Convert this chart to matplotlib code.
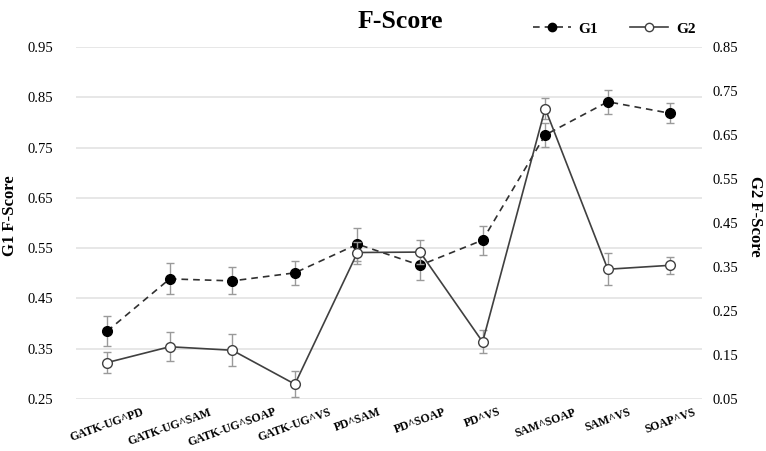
import numpy as np
import matplotlib
matplotlib.use("Agg")
import matplotlib.pyplot as plt
from matplotlib.lines import Line2D

plt.rcParams['font.family'] = ['Liberation Serif', 'DejaVu Serif']

# data
pairs = ['GATK-UG^PD', 'GATK-UG^SAM', 'GATK-UG^SOAP', 'GATK-UG^VS', 'PD^SAM',
         'PD^SOAP', 'PD^VS', 'SAM^SOAP', 'SAM^VS', 'SOAP^VS']
g1 = [0.385, 0.489, 0.485, 0.501, 0.558, 0.516, 0.566, 0.775, 0.841, 0.818]
g1_err = [0.030, 0.031, 0.027, 0.024, 0.033, 0.030, 0.029, 0.023, 0.024, 0.020]
g2 = [0.133, 0.169, 0.161, 0.084, 0.383, 0.384, 0.180, 0.710, 0.345, 0.354]
g2_err = [0.024, 0.033, 0.036, 0.030, 0.025, 0.028, 0.026, 0.023, 0.036, 0.019]
left_ticks = [0.25, 0.35, 0.45, 0.55, 0.65, 0.75, 0.85, 0.95]
right_ticks = [0.05, 0.15, 0.25, 0.35, 0.45, 0.55, 0.65, 0.75, 0.85]

x = np.arange(len(pairs))

fig = plt.figure(figsize=(7.66, 4.51), dpi=100)
ax = fig.add_axes([0.099, 0.115, 0.817, 0.781])
ax2 = ax.twinx()

# grid lines on the left axis
for t in left_ticks:
    ax.axhline(t, color='#e3e3e3', lw=1.2, zorder=0)

err_kw = dict(ecolor='#9a9a9a', elinewidth=1.0, capsize=3, capthick=1.0)

ax.errorbar(x, g1, yerr=g1_err, fmt='o--', color='#303030', lw=1.2,
            markersize=7, markerfacecolor='black', markeredgecolor='black',
            dashes=(4, 3), zorder=3, **err_kw)
ax2.errorbar(x, g2, yerr=g2_err, fmt='o-', color='#404040', lw=1.2,
             markersize=7, markerfacecolor='white', markeredgecolor='#404040',
             zorder=3, **err_kw)

ax.set_xlim(-0.5, len(pairs) - 0.5)
ax.set_ylim(0.25, 0.95)
ax2.set_ylim(0.05, 0.85)
ax.set_yticks(left_ticks)
ax.set_yticklabels([f'{t:.2f}' for t in left_ticks], fontsize=10.5)
ax2.set_yticks(right_ticks)
ax2.set_yticklabels([f'{t:.2f}' for t in right_ticks], fontsize=10.5)
ax.tick_params(axis='y', length=0, pad=16)
ax2.tick_params(axis='y', length=0, pad=8)
ax.set_xticks(x)
ax.set_xticklabels(pairs, rotation=20, ha='center', fontsize=8.5, fontweight='bold')
ax.tick_params(axis='x', length=0, pad=5)

for a in (ax, ax2):
    for s in a.spines.values():
        s.set_visible(False)

ax.set_ylabel('G1 F-Score', fontsize=12, fontweight='bold')
ax.yaxis.set_label_coords(-0.093, 0.52)
ax2.set_ylabel('G2 F-Score', fontsize=12, fontweight='bold', rotation=270, va='center')
ax2.yaxis.set_label_coords(1.086, 0.52)

fig.text(400 / 766, 1 - 22 / 451, 'F-Score', ha='center', va='center',
         fontsize=18.5, fontweight='bold')

h1 = Line2D([], [], color='#303030', lw=1.2, dashes=(4, 3), marker='o',
            markersize=6, markerfacecolor='black', markeredgecolor='black')
h2 = Line2D([], [], color='#404040', lw=1.2, marker='o', markersize=6,
            markerfacecolor='white', markeredgecolor='#404040')
ax.legend([h1, h2], ['G1', 'G2'], loc='center', bbox_to_anchor=(0.86, 1.051),
          ncol=2, frameon=False, prop={'weight': 'bold', 'size': 11},
          handlelength=2.5, columnspacing=2.1, handletextpad=0.5)

fig.savefig('out.png', dpi=100)
